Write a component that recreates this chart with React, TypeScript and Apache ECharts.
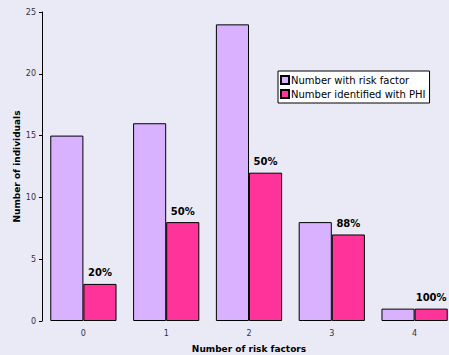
import React, { useEffect, useRef } from "react";
import * as echarts from "echarts";

const categories = ["0", "1", "2", "3", "4"];
const withRiskFactor = [15, 16, 24, 8, 1];
const identifiedPHI = [3, 8, 12, 7, 1];
const percentLabels = ["20%", "50%", "50%", "88%", "100%"];

const FONT = "DejaVu Sans, Verdana, sans-serif";

export default function App() {
  const ref = useRef<HTMLDivElement>(null);
  useEffect(() => {
    document.body.style.margin = "0";
    const chart = echarts.init(ref.current!, null, { renderer: "svg" });
    chart.setOption({
      animation: false,
      backgroundColor: "#eaeaf6",
      textStyle: { fontFamily: FONT },
      grid: { left: 42, top: 12, bottom: 34, right: -7, containLabel: false, outerBoundsMode: "none" },
      legend: {
        orient: "vertical",
        left: 278,
        top: 71,
        backgroundColor: "#ffffff",
        borderColor: "#000000",
        borderWidth: 1,
        borderRadius: 0,
        padding: [4, 4, 4, 2],
        itemGap: 4,
        itemWidth: 8,
        itemHeight: 8,
        icon: "rect",
        textStyle: { fontSize: 10, color: "#000", fontFamily: FONT, padding: [0, 0, 0, -3] },
      },
      xAxis: {
        type: "category",
        data: categories,
        name: "Number of risk factors",
        nameLocation: "middle",
        nameGap: 23,
        nameMoveOverlap: false,
        nameTextStyle: { fontSize: 9, fontWeight: "bold", color: "#000", fontFamily: FONT },
        axisLine: { show: false },
        axisTick: { show: false },
        axisLabel: { fontSize: 8, color: "#333", margin: 8, fontFamily: FONT },
      },
      yAxis: {
        type: "value",
        min: 0,
        max: 25,
        interval: 5,
        name: "Number of individuals",
        nameLocation: "middle",
        nameGap: 21,
        nameMoveOverlap: false,
        nameTextStyle: { fontSize: 9, fontWeight: "bold", color: "#000", fontFamily: FONT },
        axisLine: { show: true, lineStyle: { color: "#000", width: 1 } },
        axisTick: { show: true, length: 3, lineStyle: { color: "#000" } },
        axisLabel: { fontSize: 8, color: "#333", margin: 6, fontFamily: FONT },
        splitLine: { show: false },
      },
      series: [
        {
          name: "Number with risk factor",
          type: "bar",
          data: withRiskFactor,
          barGap: "0%",
          barCategoryGap: "20%",
          itemStyle: { color: "#d8b2ff", borderColor: "#000", borderWidth: 1 },
        },
        {
          name: "Number identified with PHI",
          type: "bar",
          data: identifiedPHI,
          barGap: "0%",
          barCategoryGap: "20%",
          itemStyle: { color: "#ff3399", borderColor: "#000", borderWidth: 1 },
          label: {
            show: true,
            position: "top",
            distance: 6,
            fontSize: 10,
            fontWeight: "bold",
            color: "#000",
            fontFamily: FONT,
            formatter: (p: any) => percentLabels[p.dataIndex],
          },
        },
      ],
    });
    return () => chart.dispose();
  }, []);
  return <div ref={ref} style={{ width: 449, height: 355 }} />;
}
